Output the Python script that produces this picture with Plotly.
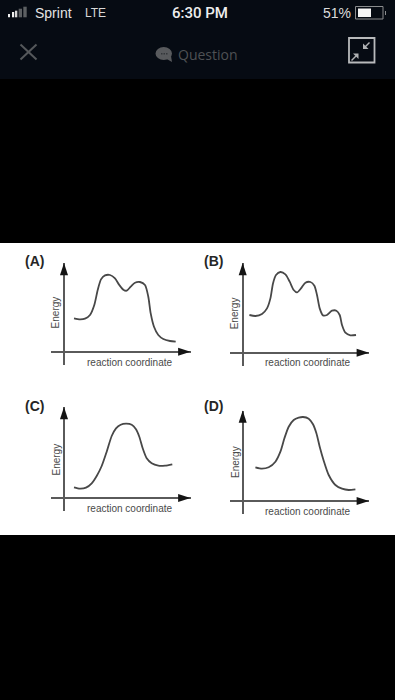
import plotly.graph_objects as go

W, H = 395, 700

a_x = [10, 16, 21, 26, 30.3, 33.7, 37, 41, 46, 51, 55.3, 59.3, 62.7, 66.7, 71, 76, 81, 84.3, 86.7, 90, 94.3, 99.3, 106, 111.7]
a_y = [33.3, 32.3, 33, 36.7, 46.7, 61.7, 72.3, 76.3, 76.7, 73.3, 66.7, 62, 61, 65, 69, 69.7, 66.7, 55, 38.3, 25, 16.7, 12.7, 10.7, 10]
b_x = [6.7, 12.7, 19.3, 24.3, 27.7, 30.3, 33.3, 37.7, 42.7, 47, 51, 54.3, 58.3, 62.7, 67.7, 71.7, 74.3, 77, 80.3, 84.3, 89.3, 93.7, 97, 99.3, 102.7, 107.7, 113.3]
b_y = [37.7, 36.7, 38.7, 44.3, 54.3, 69.3, 77.7, 80.7, 78.3, 71, 62.7, 60.3, 64.3, 70, 70.7, 67, 57.7, 44.3, 37.3, 37.7, 42, 42, 37.7, 27.7, 20, 17.3, 17.7]
c_x = [10, 16, 22, 27.7, 32.7, 37.7, 42.7, 47.7, 52, 56.7, 62, 67.7, 72, 75.3, 78.7, 82.7, 87.7, 94.3, 101, 108.3]
c_y = [10.7, 9.3, 10.3, 14.7, 22, 32, 46.3, 62, 69.7, 73.3, 74.3, 73.3, 68.7, 61.3, 49.7, 39.7, 34.7, 32.3, 32.3, 33.7]
d_x = [12.7, 19.3, 26, 32.7, 37.7, 41.7, 46, 51, 56, 60.3, 66, 70.3, 73.7, 77, 81, 86, 92.7, 99.3, 106, 112.7]
d_y = [33.7, 32.3, 33.7, 39.3, 49.3, 62.7, 74.3, 81, 83.3, 84, 82.3, 76.7, 67.7, 54.3, 40.3, 26, 16, 12.3, 11, 11.7]

panel_labels = ["(A)", "(B)", "(C)", "(D)"]
x_title = "reaction coordinate"
y_title = "Energy"

# panel layout in pixels: origin x, origin y, x-axis left/right, y-axis top/bottom
panels = [
    dict(curve=(a_x, a_y), ox=64.0, oy=351.7, l=51.0, r=190.5, t=263.0, b=365.0, lab=(34.5, 261), xt=(129.5, 362), yt=(55.7, 312.7)),
    dict(curve=(b_x, b_y), ox=242.7, oy=352.7, l=229.7, r=369.0, t=263.0, b=365.7, lab=(213.7, 261), xt=(307.8, 362.7), yt=(235.3, 313)),
    dict(curve=(c_x, c_y), ox=64.0, oy=498.0, l=51.0, r=190.5, t=407.0, b=511.0, lab=(34.2, 405.7), xt=(129.5, 508.3), yt=(55.5, 460)),
    dict(curve=(d_x, d_y), ox=242.7, oy=501.0, l=229.7, r=369.0, t=410.5, b=514.3, lab=(213.5, 405.7), xt=(307.5, 511), yt=(235, 462)),
]


def px(x):
    return x / W


def py(y):
    return 1 - y / H


def rect(x0, y0, x1, y1, fill, line=None, lw=0, layer="below"):
    return dict(type="rect", xref="paper", yref="paper", x0=px(x0), x1=px(x1), y0=py(y0), y1=py(y1),
                fillcolor=fill, line=dict(color=line or fill, width=lw), layer=layer)


def seg(x0, y0, x1, y1, color, lw=2):
    return dict(type="line", xref="paper", yref="paper", x0=px(x0), x1=px(x1), y0=py(y0), y1=py(y1),
                line=dict(color=color, width=lw), layer="above")


def tri(p1, p2, p3, color):
    path = "M{},{} L{},{} L{},{} Z".format(px(p1[0]), py(p1[1]), px(p2[0]), py(p2[1]), px(p3[0]), py(p3[1]))
    return dict(type="path", xref="paper", yref="paper", path=path, fillcolor=color, line=dict(width=0), layer="above")


def text(s, x, y, size, color, font="Liberation Sans", bold=False, angle=0, weight=None):
    f = dict(size=size, color=color, family=font)
    if weight:
        f["weight"] = weight
    return dict(text=f"<b>{s}</b>" if bold else s, xref="paper", yref="paper", x=px(x), y=py(y),
                xanchor="center", yanchor="middle", showarrow=False, textangle=angle, font=f)


AXIS = "#5a5a5a"
CURVE = "#484848"
fig = go.Figure()
layout_axes = {}
annotations = []

for i, p in enumerate(panels, start=1):
    xs = "" if i == 1 else str(i)
    xmin, xmax = p["l"] - p["ox"], p["r"] - p["ox"]
    ymin, ymax = p["oy"] - p["b"], p["oy"] - p["t"]
    fig.add_trace(go.Scatter(x=p["curve"][0], y=p["curve"][1], xaxis=f"x{xs}", yaxis=f"y{xs}", mode="lines",
                             line=dict(color=CURVE, width=1.8, shape="spline", smoothing=0.7),
                             hoverinfo="skip", showlegend=False))
    fig.add_trace(go.Scatter(x=[xmax, 0], y=[0, ymax], xaxis=f"x{xs}", yaxis=f"y{xs}", mode="markers", cliponaxis=False,
                             marker=dict(symbol="arrow", size=13, angle=[90, 0], color="#141414", line=dict(width=0)),
                             hoverinfo="skip", showlegend=False))
    common = dict(showgrid=False, showticklabels=False, ticks="", showline=False, zeroline=True,
                  zerolinecolor=AXIS, zerolinewidth=1.5, fixedrange=True)
    layout_axes[f"xaxis{xs}"] = dict(domain=[px(p["l"]), px(p["r"])], range=[xmin, xmax], anchor=f"y{xs}", **common)
    layout_axes[f"yaxis{xs}"] = dict(domain=[py(p["b"]), py(p["t"])], range=[ymin, ymax], anchor=f"x{xs}", **common)
    annotations.append(text(panel_labels[i - 1], *p["lab"], 14, "#262626", bold=True))
    annotations.append(text(x_title, *p["xt"], 10, "#4a4a4a"))
    annotations.append(text(y_title, *p["yt"], 10, "#4a4a4a", angle=-90))

BAR = "#060b13"
ICON = "#b0b2b4"
shapes = [
    rect(0, 0, W, 79, BAR),
    rect(0, 243, W, 535, "#ffffff"),
    # signal bars
    rect(8, 14, 10, 17.3, "#f0f0f0", layer="above"),
    rect(12, 12, 14.2, 17.3, "#f0f0f0", layer="above"),
    rect(15, 10.7, 17.3, 17.3, "#d8d8d8", layer="above"),
    rect(18.7, 8.7, 22, 17.3, "#5c5f62", layer="above"),
    rect(23.3, 6.7, 26.7, 17.3, "#5c5f62", layer="above"),
    # battery
    dict(type="rect", xref="paper", yref="paper", x0=px(355.5), x1=px(383), y0=py(6.5), y1=py(19),
         fillcolor="rgba(0,0,0,0)", line=dict(color="#8a8c8e", width=1), layer="above"),
    rect(358, 8.5, 371, 17, "#f5f5f5", layer="above"),
    rect(385, 11, 386, 15, "#8a8c8e", layer="above"),
    # close icon
    seg(20.5, 44.5, 36.5, 59.5, "#55585b"),
    seg(36.5, 44.5, 20.5, 59.5, "#55585b"),
    # chat bubble
    dict(type="circle", xref="paper", yref="paper", x0=px(155.5), x1=px(172), y0=py(60), y1=py(47),
         fillcolor="#585a5d", line=dict(width=0), layer="above"),
    tri((165, 58), (171, 56), (172, 62), "#585a5d"),
    rect(161, 53, 162.5, 54.5, "#33363a", layer="above"),
    rect(163.5, 53, 165, 54.5, "#33363a", layer="above"),
    rect(166, 53, 167.5, 54.5, "#33363a", layer="above"),
    # expand icon
    dict(type="rect", xref="paper", yref="paper", x0=px(349), x1=px(374.5), y0=py(38), y1=py(62.5),
         fillcolor="rgba(0,0,0,0)", line=dict(color="#b8babc", width=1.8), layer="above"),
    seg(365, 47, 369.5, 42.5, ICON, 1.5),
    tri((363, 49), (363, 43.5), (368.5, 49), ICON),
    seg(356, 56, 351.5, 60.5, ICON, 1.5),
    tri((358.5, 53.5), (358.5, 59), (353, 53.5), ICON),
]

annotations += [
    text("Sprint", 53, 13, 14, "#e4e4e4"),
    text("LTE", 95, 13.5, 12, "#d8d8d8"),
    text("6:30 PM", 199.5, 13.5, 15, "#eeeeee", font="Roboto", weight=500),
    text("51%", 337, 13.5, 14, "#dcdcdc"),
    text("Question", 208, 54, 14, "#4e5154", font="Open Sans"),
]

fig.update_layout(
    width=W, height=H, margin=dict(l=0, r=0, t=0, b=0), autosize=False,
    paper_bgcolor="#000000", plot_bgcolor="rgba(0,0,0,0)", showlegend=False,
    shapes=shapes, annotations=annotations, **layout_axes,
)
fig.write_html("out.html", config=dict(displayModeBar=False),
               post_script="document.body.style.margin='0';document.body.style.background='#000';")
